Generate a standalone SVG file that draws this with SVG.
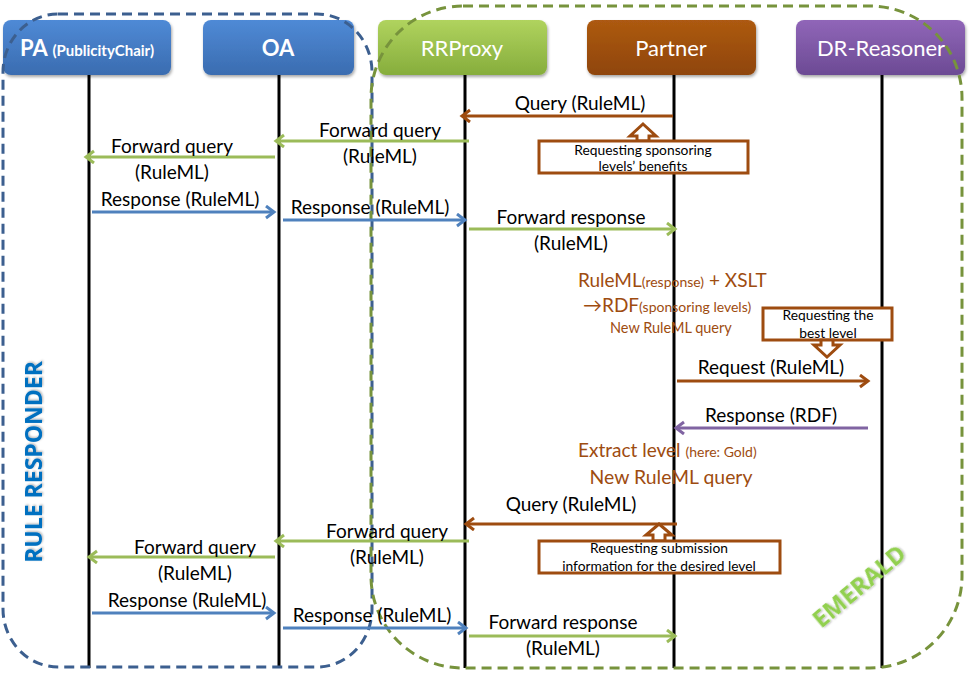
<svg xmlns="http://www.w3.org/2000/svg" width="970" height="678" viewBox="0 0 970 678">
<defs>
<linearGradient id="gBlue" x1="0" y1="0" x2="0" y2="1"><stop offset="0" stop-color="#4f8ad6"/><stop offset="1" stop-color="#3a6cb0"/></linearGradient>
<linearGradient id="gGreen" x1="0" y1="0" x2="0" y2="1"><stop offset="0" stop-color="#b0d35e"/><stop offset="1" stop-color="#86ad3c"/></linearGradient>
<linearGradient id="gBrown" x1="0" y1="0" x2="0" y2="1"><stop offset="0" stop-color="#ad5a12"/><stop offset="1" stop-color="#8f4507"/></linearGradient>
<linearGradient id="gPurple" x1="0" y1="0" x2="0" y2="1"><stop offset="0" stop-color="#9066b8"/><stop offset="1" stop-color="#6c4a94"/></linearGradient>
<filter id="sh" x="-10%" y="-10%" width="120%" height="130%"><feDropShadow dx="1" dy="2" stdDeviation="1.5" flood-color="#000" flood-opacity="0.35"/></filter>
<filter id="glow" x="-20%" y="-20%" width="140%" height="140%"><feDropShadow dx="1" dy="1" stdDeviation="1" flood-color="#000" flood-opacity="0.3"/></filter>
<marker id="aBrown" markerUnits="userSpaceOnUse" markerWidth="16" markerHeight="16" refX="11" refY="7" orient="auto"><path d="M3,1 L11,7 L3,13" fill="none" stroke="#9e4c10" stroke-width="3"/></marker>
<marker id="aGreen" markerUnits="userSpaceOnUse" markerWidth="16" markerHeight="16" refX="11" refY="7" orient="auto"><path d="M3,1 L11,7 L3,13" fill="none" stroke="#9bbb59" stroke-width="3"/></marker>
<marker id="aBlue" markerUnits="userSpaceOnUse" markerWidth="16" markerHeight="16" refX="11" refY="7" orient="auto"><path d="M3,1 L11,7 L3,13" fill="none" stroke="#4f81bd" stroke-width="3"/></marker>
<marker id="aPurple" markerUnits="userSpaceOnUse" markerWidth="16" markerHeight="16" refX="11" refY="7" orient="auto"><path d="M3,1 L11,7 L3,13" fill="none" stroke="#8064a2" stroke-width="3"/></marker>
</defs>
<style>
.box{stroke:none;filter:url(#sh)}
.bt{font-family:Lato,"Liberation Sans",sans-serif;fill:#fff;text-anchor:middle}
.life{stroke:#000;stroke-width:3}
.lbl{font-family:Lato,"Liberation Sans",sans-serif;font-size:19px;fill:#000;text-anchor:middle}
.br{font-family:Lato,"Liberation Sans",sans-serif;fill:#9e4c10}
.note{font-family:Lato,"Liberation Sans",sans-serif;font-size:13.8px;fill:#000;text-anchor:middle}
.m{fill:none;stroke-width:3}
.mbr{stroke:#9e4c10;marker-end:url(#aBrown)}
.mgr{stroke:#9bbb59;marker-end:url(#aGreen)}
.mbl{stroke:#4f81bd;marker-end:url(#aBlue)}
.mpu{stroke:#8064a2;marker-end:url(#aPurple)}
.cb{fill:#fff;stroke:#9e4c10;stroke-width:3}
.grp{fill:none;stroke-width:3;stroke-dasharray:10 6}
</style>

<g id="lifelines">
<line class="life" x1="89" y1="75" x2="89" y2="668"/>
<line class="life" x1="279" y1="75" x2="279" y2="668"/>
<line class="life" x1="465" y1="75" x2="465" y2="668"/>
<line class="life" x1="674" y1="75" x2="674" y2="668"/>
<line class="life" x1="882" y1="75" x2="882" y2="668"/>
</g>

<g id="PA"><rect class="box" x="3" y="20" width="168" height="55" rx="8" fill="url(#gBlue)"/>
<text class="bt" x="87" y="56" font-weight="bold"><tspan font-size="22">PA </tspan><tspan font-size="15">(PublicityChair)</tspan></text></g>
<g id="OA"><rect class="box" x="203" y="20" width="151" height="55" rx="8" fill="url(#gBlue)"/>
<text class="bt" x="278" y="56" font-size="22" font-weight="bold">OA</text></g>
<g id="RRProxy"><rect class="box" x="378" y="20" width="169" height="55" rx="8" fill="url(#gGreen)"/>
<text class="bt" x="462" y="56" font-size="22">RRProxy</text></g>
<g id="Partner"><rect class="box" x="587" y="20" width="169" height="55" rx="8" fill="url(#gBrown)"/>
<text class="bt" x="671" y="56" font-size="22">Partner</text></g>
<g id="DR-Reasoner"><rect class="box" x="796" y="20" width="169" height="55" rx="8" fill="url(#gPurple)"/>
<text class="bt" x="881" y="56" font-size="22">DR-Reasoner</text></g>

<g id="rule-responder">
<rect class="grp" x="3" y="14" width="369" height="653" rx="55" ry="58" stroke="#3c5f8f"/>
<text x="33" y="462" transform="rotate(-90 33 462)" font-family="'Open Sans','Liberation Sans',sans-serif" font-weight="bold" font-size="23" fill="#0070c0" text-anchor="middle" filter="url(#glow)" dominant-baseline="central">RULE RESPONDER</text>
</g>
<g id="emerald">
<rect class="grp" x="371" y="6" width="591" height="662" rx="92" ry="92" stroke="#77933c"/>
<text x="858" y="585" transform="rotate(-40 858 585)" font-family="'Open Sans','Liberation Sans',sans-serif" font-weight="bold" font-size="24" fill="#92d050" text-anchor="middle" filter="url(#glow)" dominant-baseline="central">EMERALD</text>
</g>

<g id="connectors">
<line class="m mbr" x1="673" y1="116" x2="462" y2="116"/>
<line class="m mgr" x1="469" y1="141" x2="276" y2="141"/>
<line class="m mgr" x1="275" y1="157" x2="86" y2="157"/>
<line class="m mbl" x1="92" y1="212" x2="274" y2="212"/>
<line class="m mbl" x1="283" y1="220" x2="465" y2="220"/>
<line class="m mgr" x1="469" y1="229" x2="675" y2="229"/>
<line class="m mbr" x1="677" y1="381" x2="868" y2="381"/>
<line class="m mpu" x1="868" y1="428" x2="676" y2="428"/>
<line class="m mbr" x1="677" y1="524" x2="466" y2="524"/>
<line class="m mgr" x1="469" y1="541" x2="276" y2="541"/>
<line class="m mgr" x1="275" y1="557" x2="89" y2="557"/>
<line class="m mbl" x1="92" y1="613" x2="274" y2="613"/>
<line class="m mbl" x1="283" y1="628" x2="466" y2="628"/>
<line class="m mgr" x1="469" y1="636" x2="675" y2="636"/>
</g>

<g id="labels">
<text class="lbl" x="580" y="110">Query (RuleML)</text>
<text class="lbl" x="380" y="137">Forward query</text>
<text class="lbl" x="380" y="163">(RuleML)</text>
<text class="lbl" x="172" y="153">Forward query</text>
<text class="lbl" x="172" y="179">(RuleML)</text>
<text class="lbl" x="180" y="206">Response  (RuleML)</text>
<text class="lbl" x="370" y="214">Response  (RuleML)</text>
<text class="lbl" x="571" y="224">Forward response</text>
<text class="lbl" x="571" y="250">(RuleML)</text>
<text class="lbl" x="771" y="374">Request  (RuleML)</text>
<text class="lbl" x="771" y="422">Response  (RDF)</text>
<text class="lbl" x="571" y="511">Query (RuleML)</text>
<text class="lbl" x="387" y="538">Forward query</text>
<text class="lbl" x="387" y="564">(RuleML)</text>
<text class="lbl" x="195" y="554">Forward query</text>
<text class="lbl" x="195" y="580">(RuleML)</text>
<text class="lbl" x="187" y="607">Response  (RuleML)</text>
<text class="lbl" x="372" y="622">Response  (RuleML)</text>
<text class="lbl" x="563" y="629">Forward response</text>
<text class="lbl" x="563" y="655">(RuleML)</text>
</g>

<g id="note-partner">
<text class="br" x="578" y="287" font-size="19">RuleML<tspan font-size="14">(response)</tspan> + XSLT</text>
<text class="br" x="583" y="312" font-size="19">→RDF<tspan font-size="14">(sponsoring levels)</tspan></text>
<text class="br" x="610" y="333" font-size="14.5">New RuleML query</text>
<text class="br" x="578" y="457" font-size="19">Extract level <tspan font-size="14">(here: Gold)</tspan></text>
<text class="br" x="671" y="484" font-size="19.4" text-anchor="middle">New RuleML query</text>
</g>

<g id="callout1">
<path d="M643,124 L656,136 L649,136 L649,141 L637,141 L637,136 L630,136 Z" fill="#fff" stroke="#9e4c10" stroke-width="3" stroke-linejoin="miter"/>
<rect class="cb" x="539" y="141" width="209" height="32"/>
<text class="note" x="643" y="155">Requesting sponsoring</text>
<text class="note" x="643" y="171">levels’ benefits</text>
</g>
<g id="callout2">
<rect class="cb" x="763" y="308" width="129" height="32"/>
<text class="note" x="828" y="320">Requesting the</text>
<text class="note" x="828" y="338">best level</text>
<path d="M821,340 L833,340 L833,345 L840,345 L827,357 L814,345 L821,345 Z" fill="#fff" stroke="#9e4c10" stroke-width="3"/>
</g>
<g id="callout3">
<path d="M659,524 L672,535 L665,535 L665,541 L653,541 L653,535 L646,535 Z" fill="#fff" stroke="#9e4c10" stroke-width="3"/>
<rect class="cb" x="539" y="541" width="241" height="32"/>
<text class="note" x="659" y="553">Requesting submission</text>
<text class="note" x="659" y="571">information for the desired level</text>
</g>
</svg>
